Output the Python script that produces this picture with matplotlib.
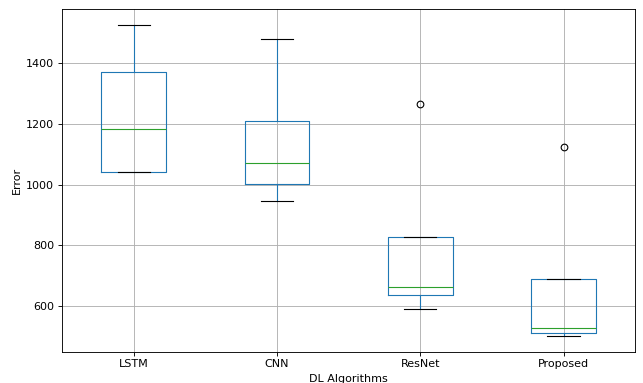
import matplotlib
matplotlib.use("Agg")
import matplotlib.pyplot as plt
import pandas as pd

algorithms = ["LSTM", "CNN", "ResNet", "Proposed"]
lstm_err = [1040, 1040, 1182, 1372, 1526]
cnn_err = [945, 1001, 1071, 1211, 1479]
resnet_err = [592, 636, 664, 826, 1265]
proposed_err = [501, 510, 527, 688, 1123]

df = pd.DataFrame({
    "LSTM": lstm_err,
    "CNN": cnn_err,
    "ResNet": resnet_err,
    "Proposed": proposed_err,
})[algorithms]

DPI = 80
fig = plt.figure(figsize=(643 / DPI, 383 / DPI), dpi=DPI)
ax = fig.add_subplot(111)
df.boxplot(ax=ax, grid=True)
ax.set_xlabel("DL Algorithms")
ax.set_ylabel("Error")
fig.subplots_adjust(left=0.0964, right=0.988, bottom=0.0817, top=0.9757)
fig.savefig("out.png", dpi=DPI)
